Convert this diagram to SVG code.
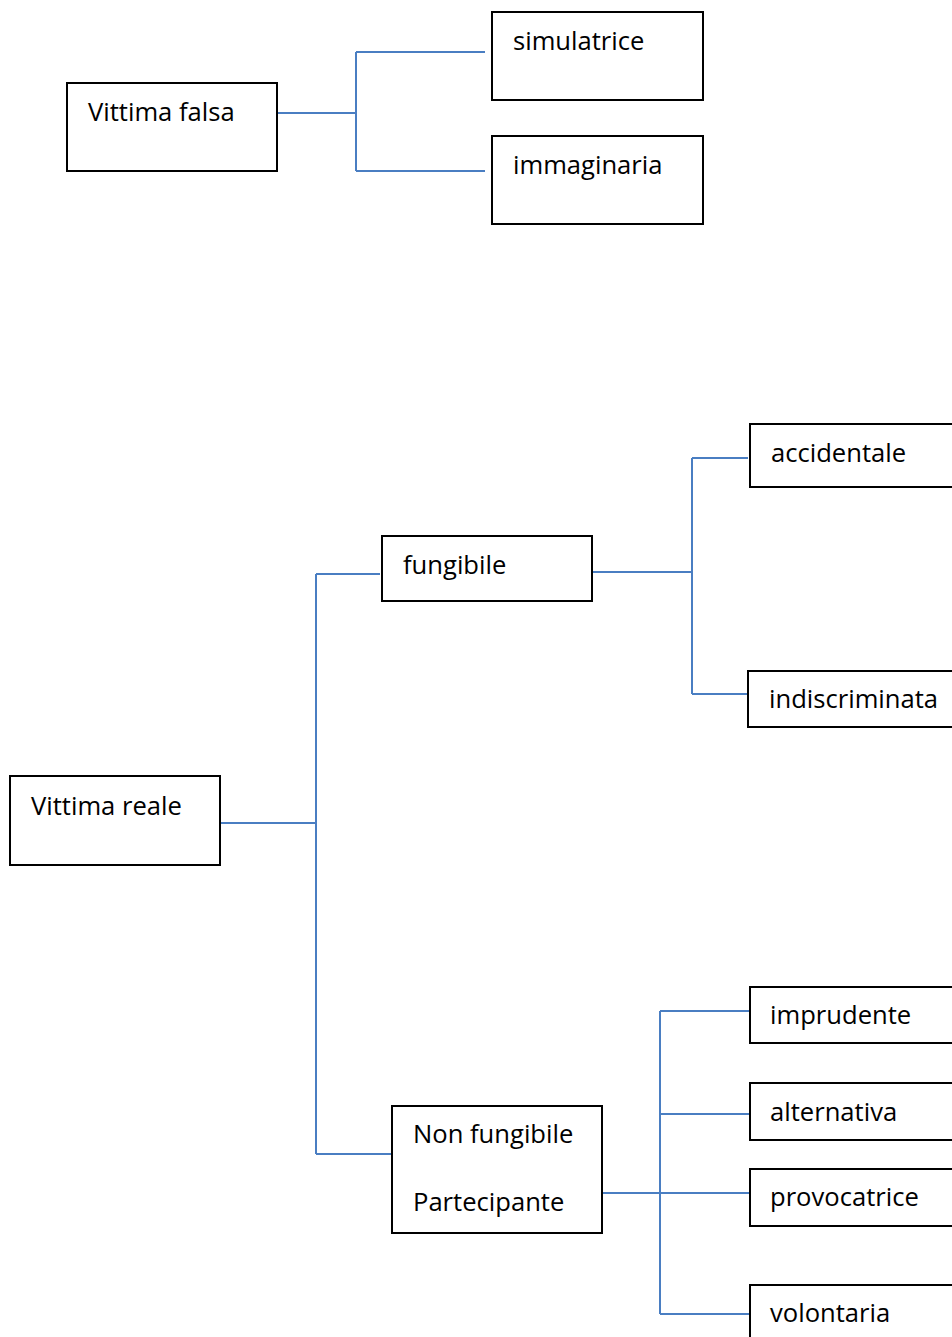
<svg xmlns="http://www.w3.org/2000/svg" width="952" height="1337" viewBox="0 0 952 1337">
<style>
.box{fill:#fff;stroke:#000;stroke-width:2}
.lbl{font-family:"Open Sans","Liberation Sans",sans-serif;font-size:25.6px;fill:#000}
.c{fill:none;stroke:#4A7EC2;stroke-width:2}
</style>
<rect width="952" height="1337" fill="#fff"/>
<g id="connectors">
<path class="c" d="M277,113H356M356,52V171M356,52H485M356,171H485"/>
<path class="c" d="M220,823H316M316,574V1154M316,574H380M316,1154H391"/>
<path class="c" d="M592,572H692M692,458V694M692,458H748M692,694H748"/>
<path class="c" d="M602,1193H749M660,1011V1314M660,1011H749M660,1114H749M660,1314H749"/>
</g>
<g id="vittima-falsa"><rect class="box" x="67" y="83" width="210" height="88"/><text class="lbl" x="88" y="121">Vittima falsa</text></g>
<g id="simulatrice"><rect class="box" x="492" y="12" width="211" height="88"/><text class="lbl" x="513" y="50">simulatrice</text></g>
<g id="immaginaria"><rect class="box" x="492" y="136" width="211" height="88"/><text class="lbl" x="513" y="174">immaginaria</text></g>
<g id="vittima-reale"><rect class="box" x="10" y="776" width="210" height="89"/><text class="lbl" x="31" y="815">Vittima reale</text></g>
<g id="fungibile"><rect class="box" x="382" y="536" width="210" height="65"/><text class="lbl" x="403" y="574">fungibile</text></g>
<g id="non-fungibile"><rect class="box" x="392" y="1106" width="210" height="127"/><text class="lbl" x="413" y="1143">Non fungibile</text><text class="lbl" x="413" y="1211">Partecipante</text></g>
<g id="accidentale"><rect class="box" x="750" y="424" width="210" height="63"/><text class="lbl" x="771" y="462">accidentale</text></g>
<g id="indiscriminata"><rect class="box" x="748" y="671" width="212" height="56"/><text class="lbl" x="769" y="708">indiscriminata</text></g>
<g id="imprudente"><rect class="box" x="750" y="987" width="210" height="56"/><text class="lbl" x="770" y="1024">imprudente</text></g>
<g id="alternativa"><rect class="box" x="750" y="1083" width="210" height="57"/><text class="lbl" x="770" y="1121">alternativa</text></g>
<g id="provocatrice"><rect class="box" x="750" y="1169" width="210" height="57"/><text class="lbl" x="770" y="1206">provocatrice</text></g>
<g id="volontaria"><rect class="box" x="750" y="1285" width="210" height="60"/><text class="lbl" x="770" y="1322">volontaria</text></g>
</svg>
